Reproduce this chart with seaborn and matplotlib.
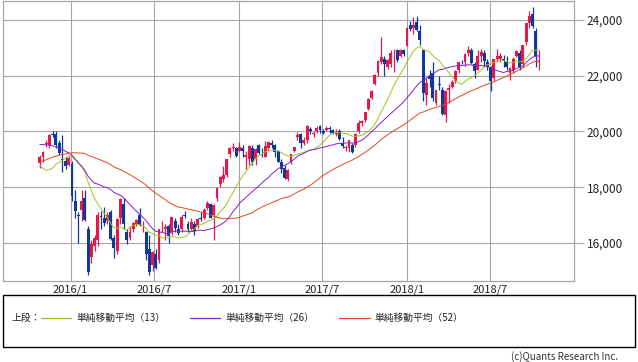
import pandas as pd
import matplotlib
matplotlib.use('Agg')
import matplotlib.pyplot as plt
from matplotlib.lines import Line2D
from matplotlib.patches import Rectangle
from matplotlib.ticker import FuncFormatter
import seaborn as sns

# Weekly candles (week starting Monday), Oct 2015 - Oct 2018
first_week = '2015-10-26'

opens = [
    18880, 19100, 19550, 19500, 19900, 19900, 19600, 19000, 18950, 18800,
    18818, 17500, 17000, 17200, 17600, 16500, 15500, 15900, 16100, 16950, 16900, 16800, 17100,
    16200, 15700, 16900, 17400, 16400, 16200, 16500, 16700, 17000, 16600, 16400, 15800, 15200,
    15600, 15400, 16600, 16500, 16600, 16400, 16800, 16500, 16500, 17000, 16700, 16500, 16700,
    16600, 16900, 16900, 17250, 17400, 17000, 17600, 18100, 18300, 18450, 19200, 19400, 19400,
    19300, 19400, 19100, 19000, 19400, 19000, 19500, 19300, 19100, 19400, 19600, 19500, 19300,
    18900, 18700, 18300, 18900, 19300, 19800, 19900, 19600, 19700, 20100, 19900, 20000, 20200,
    20000, 20050, 20100, 20050, 19900, 20000, 19600, 19400, 19400, 19500, 19500, 20000, 20300,
    20400, 20800, 21200, 21700, 22100, 22500, 22600, 22300, 22400, 22800, 22900, 22700, 22900,
    23073, 23800, 23700, 23900, 23600, 22900, 21300, 22000, 22100, 21000, 21700, 21500, 20600,
    21500, 21600, 21800, 22200, 22500, 22500, 22800, 22900, 22400, 22200, 22700, 22800, 22500,
    22300, 21900, 22600, 22600, 22600, 22500, 22100, 22200, 22700, 22800, 22400, 23200, 23900,
    24200, 23600, 22500,
]
highs = [
    19140, 19300, 19700, 19900, 20000, 20012, 19700, 19870, 19100, 19113,
    18951, 17900, 17100, 17900, 17905, 16600, 16100, 16300, 17100, 17150, 17300, 17100, 17200,
    16300, 16900, 17600, 17613, 16500, 16600, 16750, 16850, 17250, 16800, 16450, 16300, 15700,
    15800, 16500, 16800, 16700, 16700, 16950, 16900, 16700, 17000, 17150, 16800, 16900, 16800,
    16900, 17100, 17250, 17500, 17450, 17400, 18000, 18400, 18750, 19000, 19450, 19592, 19430,
    19615, 19500, 19300, 19500, 19500, 19400, 19550, 19400, 19650, 19650, 19700, 19550, 19350,
    19000, 18800, 18650, 19200, 19450, 19961, 19950, 19800, 20239, 20150, 20000, 20200, 20230,
    20100, 20200, 20200, 20100, 20100, 20100, 19800, 19500, 19700, 19600, 19950, 20400, 20400,
    20700, 21200, 21500, 22050, 22550, 23382, 22700, 22600, 22900, 22950, 22950, 22950, 22950,
    23730, 23950, 24084, 24129, 23800, 22900, 21900, 22200, 22500, 21500, 21968, 21600, 21500,
    21700, 21850, 22200, 22500, 22550, 22800, 23050, 23000, 22500, 22900, 22950, 22900, 22600,
    22350, 22600, 22950, 22800, 22750, 22700, 22300, 22650, 22900, 22900, 23100, 23900, 24300,
    24448, 23700, 22900,
]
lows = [
    18700, 18900, 19450, 19400, 19800, 19400, 19150, 18550, 18650, 18750,
    17510, 16900, 16017, 16800, 16800, 14865, 15300, 15700, 15900, 16500, 16600, 16700, 16100,
    15470, 15600, 16700, 16500, 15975, 16100, 16400, 16600, 16600, 16400, 15400, 14864, 15000,
    15060, 15300, 16400, 16100, 16000, 16300, 16400, 16300, 16400, 16900, 16400, 16450, 16300,
    16550, 16800, 16850, 17200, 16900, 16111, 17500, 18000, 18200, 18350, 19100, 19300, 19100,
    19250, 19100, 18650, 18800, 18800, 18800, 19200, 19100, 19100, 19300, 19400, 19100, 18900,
    18500, 18300, 18224, 18850, 19250, 19700, 19400, 19500, 19600, 19900, 19800, 19950, 19950,
    19900, 20000, 19950, 19900, 19850, 19700, 19400, 19300, 19280, 19239, 19450, 19950, 20200,
    20350, 20750, 21150, 21650, 22000, 22400, 21972, 22250, 22300, 22120, 22500, 22650, 22700,
    23073, 23600, 23500, 23600, 23100, 21079, 20950, 21600, 21100, 20937, 21500, 20600, 20347,
    21000, 21550, 21750, 22100, 22400, 22350, 22700, 22400, 21930, 22200, 22500, 22300, 22200,
    21462, 21800, 22500, 22500, 22300, 22200, 21851, 22100, 22650, 22200, 22300, 23100, 23700,
    23700, 22300, 22200,
]
closes = [
    19083, 19265, 19596, 19879, 19883, 19504, 19230, 18986, 18769, 19033,
    17697, 17147, 16958, 17518, 16819, 14952, 15967, 16188, 17014, 16938, 16724, 17002, 16164,
    15821, 16848, 17572, 16666, 16106, 16412, 16736, 16834, 16642, 16601, 15599, 14952, 15682,
    15106, 16497, 16627, 16569, 16254, 16919, 16545, 16360, 16925, 16965, 16519, 16754, 16449,
    16860, 16856, 17184, 17446, 16905, 17374, 17967, 18381, 18426, 18996, 19401, 19427, 19114,
    19454, 19287, 19137, 19467, 18918, 19378, 19234, 19283, 19469, 19604, 19521, 19262, 18909,
    18664, 18335, 18620, 19197, 19445, 19883, 19590, 19686, 20177, 20013, 19943, 20132, 20033,
    19929, 20118, 20099, 19959, 19952, 19729, 19470, 19452, 19691, 19274, 19909, 20296, 20356,
    20690, 21155, 21457, 22008, 22539, 22681, 22397, 22551, 22819, 22811, 22553, 22902, 22764,
    23714, 23653, 23808, 23631, 23274, 21383, 21720, 21892, 21182, 21469, 21676, 20617, 21454,
    21568, 21779, 22163, 22468, 22473, 22758, 22930, 22451, 22171, 22695, 22852, 22516, 22305,
    21788, 22597, 22698, 22713, 22525, 22298, 22270, 22601, 22865, 22307, 23094, 23870, 24120,
    23784, 22694, 22532,
]
# weekly closes of the 51 weeks before the first candle (only feed the moving averages)
prior_closes = [
    16880, 17490, 17357, 17459, 17920, 17371, 17621, 17818, 17451, 17197, 16864, 17511, 17674,
    17648, 17913, 18332, 18798, 18971, 19254, 19560, 19286, 19435, 19908, 19653, 20020, 19531,
    19380, 19733, 20264, 20563, 20461, 20407, 19990, 20706, 20539, 19780, 20650, 20544, 20585,
    20724, 20519, 19435, 19136, 17792, 18264, 18070, 17880, 17725, 18438, 18291, 18825,
]

ma_periods = [13, 26, 52]
ma_colors = ['#a3c21f', '#8320d0', '#e2481e']
ma_labels = ['単純移動平均（13）', '単純移動平均（26）', '単純移動平均（52）']

xtick_dates = ['2016-01-01', '2016-07-01', '2017-01-01', '2017-07-01', '2018-01-01', '2018-07-01']
xtick_labels = ['2016/1', '2016/7', '2017/1', '2017/7', '2018/1', '2018/7']
ytick_values = [16000, 18000, 20000, 22000, 24000]

UP = '#e8174b'
DOWN = '#0d3a98'
GRID = '#a5a5a5'

weeks = pd.date_range(first_week, periods=len(closes), freq='W-MON')
df = pd.DataFrame({'date': weeks, 'open': opens, 'high': highs, 'low': lows, 'close': closes})
all_close = pd.Series(prior_closes + closes)
for p in ma_periods:
    df[f'ma{p}'] = all_close.rolling(p).mean().iloc[len(prior_closes):].values

sns.set_style('white')
plt.rcParams['font.family'] = ['Noto Sans CJK JP', 'DejaVu Sans']

fig = plt.figure(figsize=(6.38, 3.62), dpi=100)
ax = fig.add_axes([3 / 638, 1 - 280.5 / 362, 571 / 638, 279.5 / 362])

# candles
colors = [UP if c >= o else DOWN for o, c in zip(df['open'], df['close'])]
body_low = df[['open', 'close']].min(axis=1)
body_h = (df['close'] - df['open']).abs().clip(lower=25)
ax.vlines(df['date'], df['low'], df['high'], colors=colors, lw=0.9, zorder=2)
ax.bar(df['date'], body_h, bottom=body_low, width=6.3, color=colors, lw=0, zorder=2)

# moving averages
for p, col in zip(ma_periods, ma_colors):
    sns.lineplot(data=df, x='date', y=f'ma{p}', color=col, lw=0.7, ax=ax, zorder=3)

ax.set_xlim(pd.Timestamp('2015-08-07'), pd.Timestamp('2018-12-30'))
ax.set_ylim(14660, 24670)
ax.set_xlabel('')
ax.set_ylabel('')

ax.set_xticks(pd.to_datetime(xtick_dates))
ax.set_xticklabels(xtick_labels)
ax.set_yticks(ytick_values)
ax.yaxis.set_major_formatter(FuncFormatter(lambda v, _: f'{v:,.0f}'))
ax.yaxis.tick_right()
ax.grid(True, color=GRID, lw=0.8)
ax.set_axisbelow(True)
ax.tick_params(axis='y', length=7, width=0.8, color=GRID, pad=2, labelsize=8.5, labelcolor='#222222')
ax.tick_params(axis='x', length=0, pad=3, labelsize=8, labelcolor='#222222')
for s in ax.spines.values():
    s.set_visible(True)
    s.set_color(GRID)
    s.set_linewidth(0.9)

# legend panel
fig.add_artist(Rectangle((3 / 638, 1 - 347 / 362), 632 / 638, 52 / 362,
                         transform=fig.transFigure, fill=False, ec='black', lw=1))
fig.text(12 / 638, 1 - 318 / 362, '上段：', va='center', ha='left', fontsize=7, color='#222222')
handles = [Line2D([], [], color=c, lw=0.9) for c in ma_colors]
fig.legend(handles, ma_labels, loc='center left', bbox_to_anchor=(41 / 638, 1 - 318 / 362),
           ncol=3, frameon=False, fontsize=7, handlelength=3.1, handletextpad=0.5,
           columnspacing=2.6, borderpad=0, borderaxespad=0, labelcolor='#222222')

fig.text(618 / 638, 1 - 357 / 362, '(c)Quants Research Inc.', ha='right', va='center',
         fontsize=7, color='#333333')

fig.savefig('out.png', dpi=100)
